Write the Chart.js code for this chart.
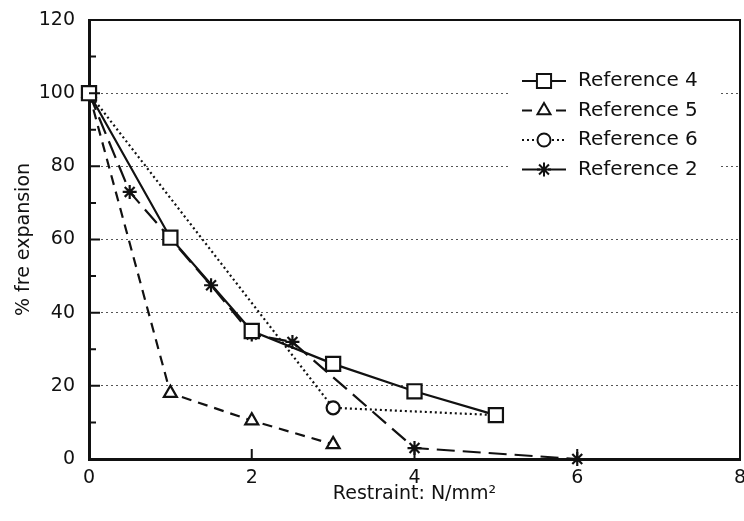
<!DOCTYPE html>
<html>
<head>
<meta charset="utf-8">
<title>% free expansion vs restraint</title>
<script src="https://cdn.jsdelivr.net/npm/chart.js@4.4.1/dist/chart.umd.min.js"></script>
<style>
    html, body { margin: 0; padding: 0; background: #fff; }
    #wrap { width: 744px; height: 521px; }
</style>
</head>
<body>
<div id="wrap"><canvas id="expansionChart" width="744" height="521"></canvas></div>
<script>
// Values
const xTicks = [0, 2, 4, 6, 8];
const yTicks = [0, 20, 40, 60, 80, 100, 120];
const yMinorTicks = [10, 20, 30, 40, 50, 60, 70, 80, 90, 100, 110];

const ref4X = [0, 1, 2, 3, 4, 5];
const ref4Y = [100, 60.5, 35, 26, 18.5, 12];
const ref5X = [0, 1, 2, 3];
const ref5Y = [100, 18, 10.5, 4];
const ref6X = [0, 3, 5];
const ref6Y = [100, 14, 12];
const ref2X = [0, 0.5, 1.5, 2, 2.5, 4, 6];
const ref2Y = [100, 73, 47.5, 34, 32, 3, 0];

const seriesLabels = ['Reference 4', 'Reference 5', 'Reference 6', 'Reference 2'];

const INK = '#111';
const FONT = '"DejaVu Sans", "Liberation Sans", sans-serif';

Chart.defaults.font.family = FONT;
Chart.defaults.font.size = 19;
Chart.defaults.color = INK;

const pts = (xs, ys) => xs.map((x, i) => ({ x: x, y: ys[i] }));

function series(label, xs, ys, dash, style, radius) {
    return {
        label: label,
        data: pts(xs, ys),
        borderColor: INK,
        backgroundColor: '#fff',
        borderWidth: 2.2,
        borderDash: dash,
        pointStyle: style,
        pointRadius: radius,
        pointBorderWidth: 2.2,
        pointBorderColor: INK,
        pointBackgroundColor: '#fff',
        tension: 0,
        fill: false,
        clip: false
    };
}

// Inward tick marks plus the top and right frame
const framePlugin = {
    id: 'frame',
    afterDatasetsDraw(chart) {
        const { ctx, chartArea: a, scales: { x, y } } = chart;
        ctx.save();
        ctx.strokeStyle = INK;
        ctx.lineWidth = 2;
        ctx.beginPath();
        yMinorTicks.forEach(v => {
            const py = y.getPixelForValue(v);
            const len = v % 20 === 0 ? 11 : 7;
            ctx.moveTo(a.left, py);
            ctx.lineTo(a.left + len, py);
        });
        xTicks.slice(1, -1).forEach(v => {
            const px = x.getPixelForValue(v);
            ctx.moveTo(px, a.bottom);
            ctx.lineTo(px, a.bottom - 10);
        });
        ctx.moveTo(a.left, a.top);
        ctx.lineTo(a.right, a.top);
        ctx.lineTo(a.right, a.bottom);
        ctx.stroke();
        ctx.restore();
    }
};

// Legend drawn inside the plot on a white box, like the paper figure
const legendPlugin = {
    id: 'paperLegend',
    afterDraw(chart) {
        const { ctx, chartArea: a } = chart;
        const boxLeft = a.right - 230;
        const rowTop = a.top + 61;
        ctx.save();
        ctx.fillStyle = '#fff';
        ctx.fillRect(boxLeft, a.top + 45, 210, 122);
        chart.data.datasets.forEach((ds, i) => {
            const yy = rowTop + i * 29.5;
            ctx.strokeStyle = INK;
            ctx.lineWidth = 2;
            ctx.setLineDash(ds.borderDash || []);
            ctx.beginPath();
            ctx.moveTo(boxLeft + 12, yy);
            ctx.lineTo(boxLeft + 56, yy);
            ctx.stroke();
            ctx.setLineDash([]);
            ctx.fillStyle = '#fff';
            Chart.helpers.drawPoint(ctx, {
                pointStyle: ds.pointStyle,
                radius: ds.pointRadius,
                borderWidth: 2,
                rotation: 0
            }, boxLeft + 34, yy);
            ctx.fillStyle = INK;
            ctx.font = '20px ' + FONT;
            ctx.textBaseline = 'middle';
            ctx.textAlign = 'left';
            ctx.fillText(ds.label, boxLeft + 68, yy);
        });
        ctx.restore();
    }
};

const chartCtx = document.getElementById('expansionChart');
new Chart(chartCtx, {
    type: 'line',
    data: {
        datasets: [
            series(seriesLabels[0], ref4X, ref4Y, [], 'rect', 10),
            series(seriesLabels[1], ref5X, ref5Y, [10, 7], 'triangle', 7.5),
            series(seriesLabels[2], ref6X, ref6Y, [2, 3], 'circle', 6.5),
            series(seriesLabels[3], ref2X, ref2Y, [18, 8], 'star', 7)
        ]
    },
    options: {
        responsive: false,
        animation: false,
        events: [],
        layout: { autoPadding: false, padding: { top: 20, right: 4, left: 0, bottom: 0 } },
        plugins: {
            legend: { display: false },
            tooltip: { enabled: false }
        },
        scales: {
            x: {
                type: 'linear',
                min: 0,
                max: 8,
                afterBuildTicks: s => { s.ticks = xTicks.map(v => ({ value: v })); },
                ticks: { padding: 8, color: INK, font: { size: 19 } },
                grid: { display: false, drawTicks: false },
                border: { display: true, width: 3, color: INK },
                title: {
                    display: true,
                    text: 'Restraint: N/mm²',
                    color: INK,
                    font: { size: 19 },
                    padding: { top: 0, bottom: 16 }
                },
                afterFit: s => { s.height = 62; s.paddingLeft = 0; s.paddingRight = 0; }
            },
            y: {
                min: 0,
                max: 120,
                afterBuildTicks: s => { s.ticks = yTicks.map(v => ({ value: v })); },
                ticks: { padding: 14, color: INK, font: { size: 19 } },
                grid: {
                    drawTicks: false,
                    lineWidth: 1,
                    color: c => (c.tick && c.tick.value > 0 && c.tick.value < 120) ? '#555' : 'rgba(0,0,0,0)'
                },
                border: { display: true, width: 3, color: INK, dash: [2, 3] },
                title: {
                    display: true,
                    text: '% fre expansion',
                    color: INK,
                    font: { size: 19 },
                    padding: { top: 13, bottom: 0 }
                },
                afterFit: s => { s.width = 89; s.paddingTop = 0; s.paddingBottom = 0; }
            }
        }
    },
    plugins: [framePlugin, legendPlugin]
});
</script>
</body>
</html>
